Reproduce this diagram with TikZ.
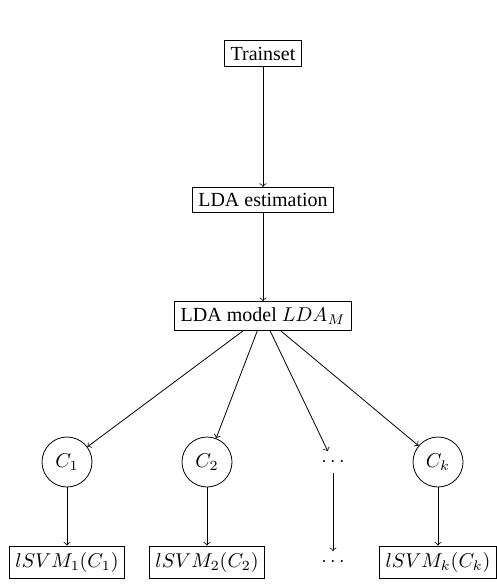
\documentclass[tikz,border=0pt]{standalone}
\usepackage{fontspec}
\setmainfont{Liberation Serif}
\begin{document}
\begin{tikzpicture}[x=0.5pt,y=-0.5pt,
  box/.style={draw,rectangle,inner sep=3pt},
  circ/.style={draw,circle,minimum size=25pt,inner sep=1pt},
  plain/.style={inner sep=3pt},
  arr/.style={->,line width=0.4pt}]
\useasboundingbox (0,0) rectangle (497,588);
\node[box] (T) at (263,53.5) {Trainset};
\node[box] (E) at (263,200) {LDA estimation};
\node[box] (M) at (263,316) {LDA model $LDA_M$};
\node[circ] (C1) at (67,462) {$C_1$};
\node[circ] (C2) at (207,462) {$C_2$};
\node[plain] (D) at (333,462) {$\cdots$};
\node[circ] (Ck) at (438,462) {$C_k$};
\node[box] (L1) at (67,562) {$lSVM_1(C_1)$};
\node[box] (L2) at (207,562) {$lSVM_2(C_2)$};
\node[plain] (LD) at (333,562) {$\cdots$};
\node[box] (Lk) at (438,562) {$lSVM_k(C_k)$};
\draw[arr] (T) -- (E);
\draw[arr] (E) -- (M);
\draw[arr] (M) -- (C1);
\draw[arr] (M) -- (C2);
\draw[arr] (M) -- (D);
\draw[arr] (M) -- (Ck);
\draw[arr] (C1) -- (L1);
\draw[arr] (C2) -- (L2);
\draw[arr] (D) -- (LD);
\draw[arr] (Ck) -- (Lk);
\end{tikzpicture}
\end{document}
